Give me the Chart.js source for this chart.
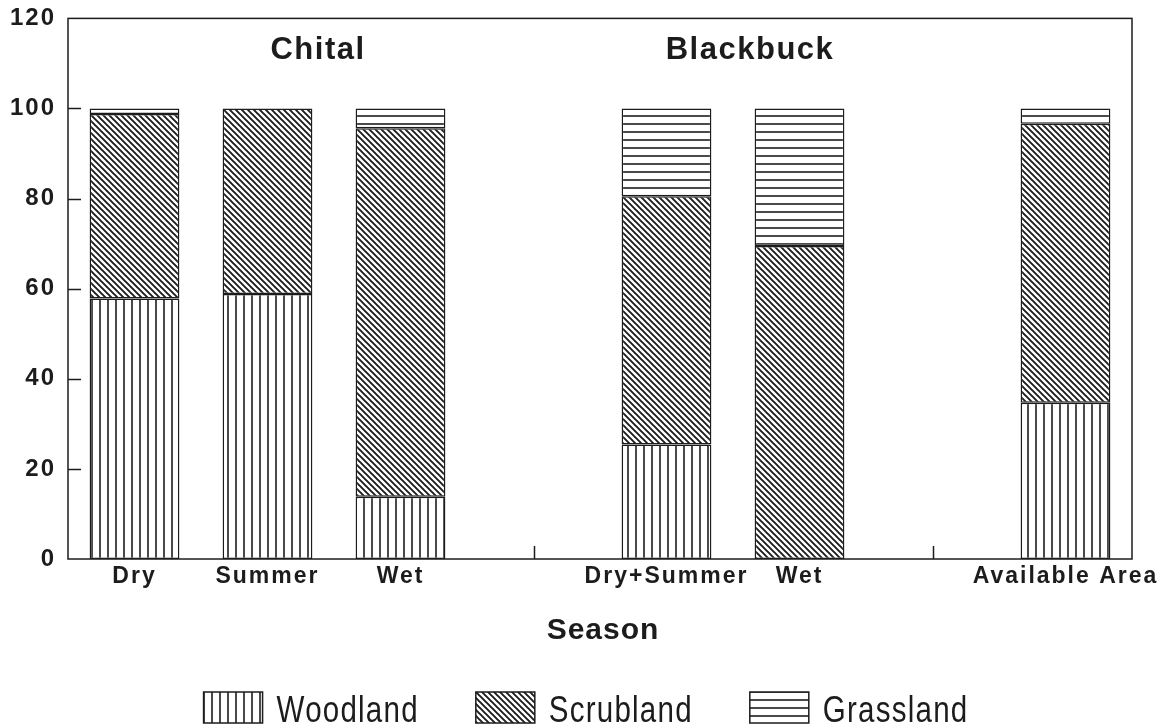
<!DOCTYPE html>
<html>
<head>
<meta charset="utf-8">
<title>Chital and Blackbuck habitat use</title>
<script src="https://cdn.jsdelivr.net/npm/chart.js@4.4.1/dist/chart.umd.min.js"></script>
<style>
  html, body { margin: 0; padding: 0; background: #fff; }
  #wrap { width: 1163px; height: 727px; }
</style>
</head>
<body>
<div id="wrap"><canvas id="habitatChart" width="1163" height="727"></canvas></div>
<script>
const seasons = ['Dry', 'Summer', 'Wet', '', 'Dry+Summer', 'Wet', '', 'Available Area'];
const woodland = [57.8, 58.8, 13.8, null, 25.4, 0, null, 34.7];
const scrubland = [41.0, 41.2, 81.8, null, 55.1, 69.5, null, 61.9];
const grassland = [1.2, 0, 4.4, null, 19.5, 30.5, null, 3.4];
const yTicks = [0, 20, 40, 60, 80, 100, 120];
const panelTitles = ['Chital', 'Blackbuck'];
const habitatNames = ['Woodland', 'Scrubland', 'Grassland'];

const INK = '#1c1c1c';

// hatch fills like the printed figure
function hatch(kind) {
    const size = kind === 'diag' ? 6 : 8;
    const c = document.createElement('canvas');
    c.width = size;
    c.height = size;
    const g = c.getContext('2d');
    g.fillStyle = '#fff';
    g.fillRect(0, 0, size, size);
    g.strokeStyle = INK;
    g.lineWidth = kind === 'diag' ? 1.9 : 1.6;
    g.beginPath();
    if (kind === 'vert') { g.moveTo(4, 0); g.lineTo(4, size); }
    if (kind === 'horiz') { g.moveTo(0, 4); g.lineTo(size, 4); }
    if (kind === 'diag') {
        g.moveTo(-1, -1); g.lineTo(size + 1, size + 1);
        g.moveTo(-1, size - 1); g.lineTo(1, size + 1);
        g.moveTo(size - 1, -1); g.lineTo(size + 1, 1);
    }
    g.stroke();
    return g.createPattern(c, 'repeat');
}

const fills = [hatch('vert'), hatch('diag'), hatch('horiz')];

function setSpacing(ctx, px) {
    if ('letterSpacing' in ctx) ctx.letterSpacing = px + 'px';
}

// frame, inward ticks, panel titles, axis title and legend
const decorPlugin = {
    id: 'decor',
    beforeUpdate(chart) { setSpacing(chart.ctx, 2); },
    beforeDraw(chart) {
        const ctx = chart.ctx;
        ctx.save();
        ctx.fillStyle = '#fff';
        ctx.fillRect(0, 0, chart.width, chart.height);
        ctx.restore();
        setSpacing(ctx, 2);
    },
    afterDatasetsDraw(chart) {
        const { ctx, chartArea: a, scales: { x, y } } = chart;
        ctx.save();
        ctx.strokeStyle = INK;
        ctx.lineWidth = 1.5;
        ctx.strokeRect(a.left, a.top, a.right - a.left, a.bottom - a.top);
        ctx.beginPath();
        yTicks.forEach(v => {
            if (v > 0 && v < 120) {
                const py = Math.round(y.getPixelForValue(v)) + 0.5;
                ctx.moveTo(a.left, py);
                ctx.lineTo(a.left + 13, py);
            }
        });
        seasons.forEach((s, i) => {
            if (s === '') {
                const px = Math.round(x.getPixelForValue(i)) + 0.5;
                ctx.moveTo(px, a.bottom);
                ctx.lineTo(px, a.bottom - 13);
            }
        });
        ctx.stroke();

        const w = a.right - a.left;
        ctx.fillStyle = INK;
        ctx.textAlign = 'center';
        ctx.textBaseline = 'alphabetic';
        ctx.font = 'bold 31px "Liberation Sans", Arial, sans-serif';
        setSpacing(ctx, 1.5);
        ctx.fillText(panelTitles[0], a.left + w * 0.235, a.top + 41);
        ctx.fillText(panelTitles[1], a.left + w * 0.641, a.top + 41);

        ctx.font = 'bold 30px "Liberation Sans", Arial, sans-serif';
        setSpacing(ctx, 1);
        ctx.fillText('Season', (a.left + a.right) / 2 + 3, 639);

        // legend
        const squeeze = 0.82;
        ctx.font = '36px "Liberation Sans", Arial, sans-serif';
        setSpacing(ctx, 1.5);
        const boxW = 59, boxH = 31, gapIn = 14, gapOut = 57;
        const widths = habitatNames.map(n => ctx.measureText(n).width * squeeze);
        const total = widths.reduce((s, t) => s + boxW + gapIn + t, 0) + gapOut * (habitatNames.length - 1);
        let cx = 586 - total / 2;
        habitatNames.forEach((n, i) => {
            ctx.fillStyle = fills[i];
            ctx.fillRect(cx, 692, boxW, boxH);
            ctx.strokeRect(cx, 692, boxW, boxH);
            ctx.save();
            ctx.translate(cx + boxW + gapIn, 722);
            ctx.scale(squeeze, 1);
            ctx.fillStyle = INK;
            ctx.textAlign = 'left';
            ctx.fillText(n, 0, 0);
            ctx.restore();
            cx += boxW + gapIn + widths[i] + gapOut;
        });
        ctx.restore();
        setSpacing(ctx, 2);
    }
};

const makeSet = (label, data, i) => ({
    label: label,
    data: data,
    backgroundColor: fills[i],
    borderColor: INK,
    borderWidth: 1.5,
    borderSkipped: false,
    barPercentage: 0.675,
    categoryPercentage: 1
});

new Chart(document.getElementById('habitatChart').getContext('2d'), {
    type: 'bar',
    data: {
        labels: seasons,
        datasets: [
            makeSet(habitatNames[0], woodland, 0),
            makeSet(habitatNames[1], scrubland, 1),
            makeSet(habitatNames[2], grassland, 2)
        ]
    },
    options: {
        responsive: false,
        animation: false,
        layout: { padding: { top: 9, right: 31, bottom: 128, left: 0 } },
        scales: {
            x: {
                stacked: true,
                grid: { display: false },
                border: { display: false },
                afterFit: s => { s.height = 40; },
                ticks: {
                    autoSkip: false,
                    maxRotation: 0,
                    padding: -4,
                    color: INK,
                    font: { family: '"Liberation Sans", Arial, sans-serif', size: 23, weight: 'bold' }
                }
            },
            y: {
                stacked: true,
                min: 0,
                max: 120,
                grid: { display: false },
                border: { display: false },
                afterFit: s => { s.width = 68; },
                afterBuildTicks: s => { s.ticks = yTicks.map(v => ({ value: v })); },
                ticks: {
                    padding: 4,
                    color: INK,
                    font: { family: '"Liberation Sans", Arial, sans-serif', size: 24, weight: 'bold' }
                }
            }
        },
        plugins: {
            legend: { display: false },
            tooltip: { enabled: false }
        }
    },
    plugins: [decorPlugin]
});
</script>
</body>
</html>
